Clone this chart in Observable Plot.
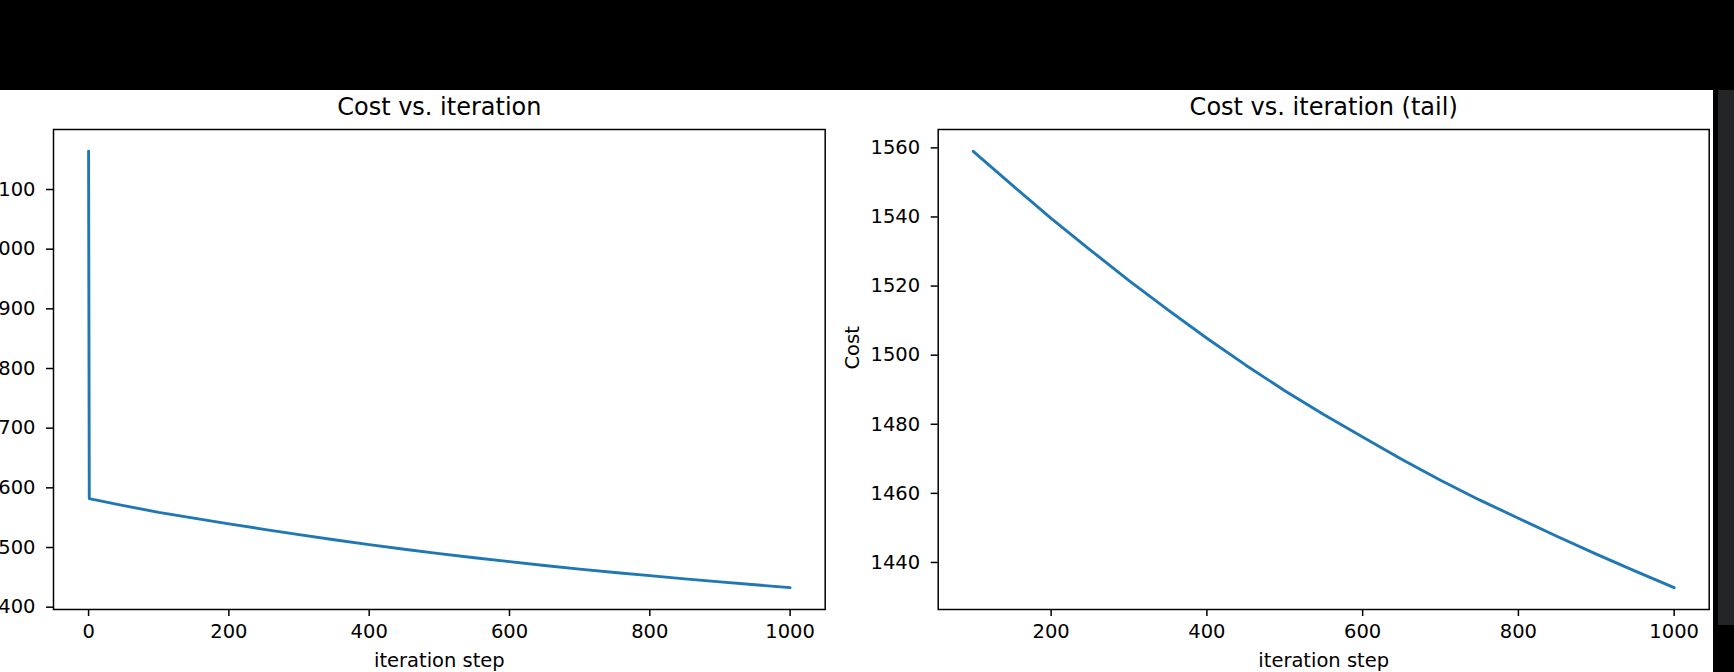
<!DOCTYPE html>
<html><head><meta charset="utf-8">
<script src="https://cdn.jsdelivr.net/npm/d3@7"></script>
<script src="https://cdn.jsdelivr.net/npm/@observablehq/plot@0.6"></script>
<style>
html,body{margin:0;padding:0;background:#000;width:1734px;height:672px;overflow:hidden;}
#sheet{position:absolute;left:0;top:90px;width:1713px;height:582px;background:#fff;overflow:hidden;color:#000;}
#strip{position:absolute;left:1718px;top:90px;width:16px;height:535px;background:#242526;}
#sheet svg{position:absolute;top:0;}
</style></head><body>
<div id="sheet"></div><div id="strip"></div>
<script>
// ---- data ----
const iterations = [0, 1, 50, 100, 150, 200, 250, 300, 350, 400, 450, 500, 550, 600, 650, 700, 750, 800, 850, 900, 950, 1000];
const costs = [2164, 1582, 1570.2, 1559.0, 1549.2, 1539.6, 1530.5, 1521.6, 1513.1, 1504.9, 1497.1, 1489.7, 1482.8, 1476.3, 1469.9, 1463.8, 1458.1, 1452.8, 1447.5, 1442.4, 1437.5, 1432.7];
const tailStart = 100;
const mainXTicks = [0, 200, 400, 600, 800, 1000];
const mainYTicks = [1400, 1500, 1600, 1700, 1800, 1900, 2000, 2100];
const tailXTicks = [200, 400, 600, 800, 1000];
const tailYTicks = [1440, 1460, 1480, 1500, 1520, 1540, 1560];
const titles = ["Cost vs. iteration", "Cost vs. iteration (tail)"];
const xLabel = "iteration step";
const yLabel = "Cost";

const tailIdx = iterations.map((d, i) => i).filter(i => iterations[i] >= tailStart);
const tailIter = tailIdx.map(i => iterations[i]);
const tailCost = tailIdx.map(i => costs[i]);

function padded(v) { const [a, b] = d3.extent(v); const p = (b - a) * 0.05; return [a - p, b + p]; }

function panel(o) {
  const pts = o.xs.map((x, i) => ({x, y: o.ys[i]}));
  const svg = Plot.plot({
    width: o.ml + o.fw + o.mr, height: o.mt + o.fh + o.mb,
    marginLeft: o.ml, marginRight: o.mr, marginTop: o.mt, marginBottom: o.mb,
    style: {fontFamily: "'DejaVu Sans', sans-serif", fontSize: "19.5px", color: "#000", background: "transparent", overflow: "visible"},
    x: {domain: padded(o.xs)},
    y: {domain: padded(o.ys)},
    marks: [
      Plot.line(pts, {x: "x", y: "y", stroke: "#1f77b4", strokeWidth: 2.9, strokeLinejoin: "round"}),
      Plot.frame({stroke: "#000", strokeWidth: 1.5}),
      Plot.axisX({ticks: o.xTicks, tickFormat: d3.format("d"), tickSize: 7, tickPadding: 8, strokeWidth: 1.5, label: null}),
      Plot.axisY({ticks: o.yTicks, tickFormat: d3.format("d"), tickSize: 7, tickPadding: 11, strokeWidth: 1.5, label: null}),
      Plot.text([o.title], {text: d => d, frameAnchor: "top", dy: -21.7, fontSize: 24, lineAnchor: "middle"}),
      Plot.text([xLabel], {text: d => d, frameAnchor: "bottom", dy: 50.8, lineAnchor: "middle"}),
      o.ylabel ? Plot.text([o.ylabel], {text: d => d, frameAnchor: "left", dx: -85, rotate: -90, lineAnchor: "middle"}) : null
    ]
  });
  svg.style.left = o.left + "px";
  svg.style.top = o.top + "px";
  return svg;
}

const sheet = document.getElementById("sheet");
sheet.appendChild(panel({xs: iterations, ys: costs, xTicks: mainXTicks, yTicks: mainYTicks, title: titles[0],
  left: -16.7, top: 0, ml: 70, fw: 771.7, mr: 5, mt: 39, fh: 480, mb: 63}));
sheet.appendChild(panel({xs: tailIter, ys: tailCost, xTicks: tailXTicks, yTicks: tailYTicks, title: titles[1], ylabel: yLabel,
  left: 830, top: 0, ml: 107.7, fw: 771, mr: 4.3, mt: 39, fh: 480, mb: 63}));
</script>
</body></html>
